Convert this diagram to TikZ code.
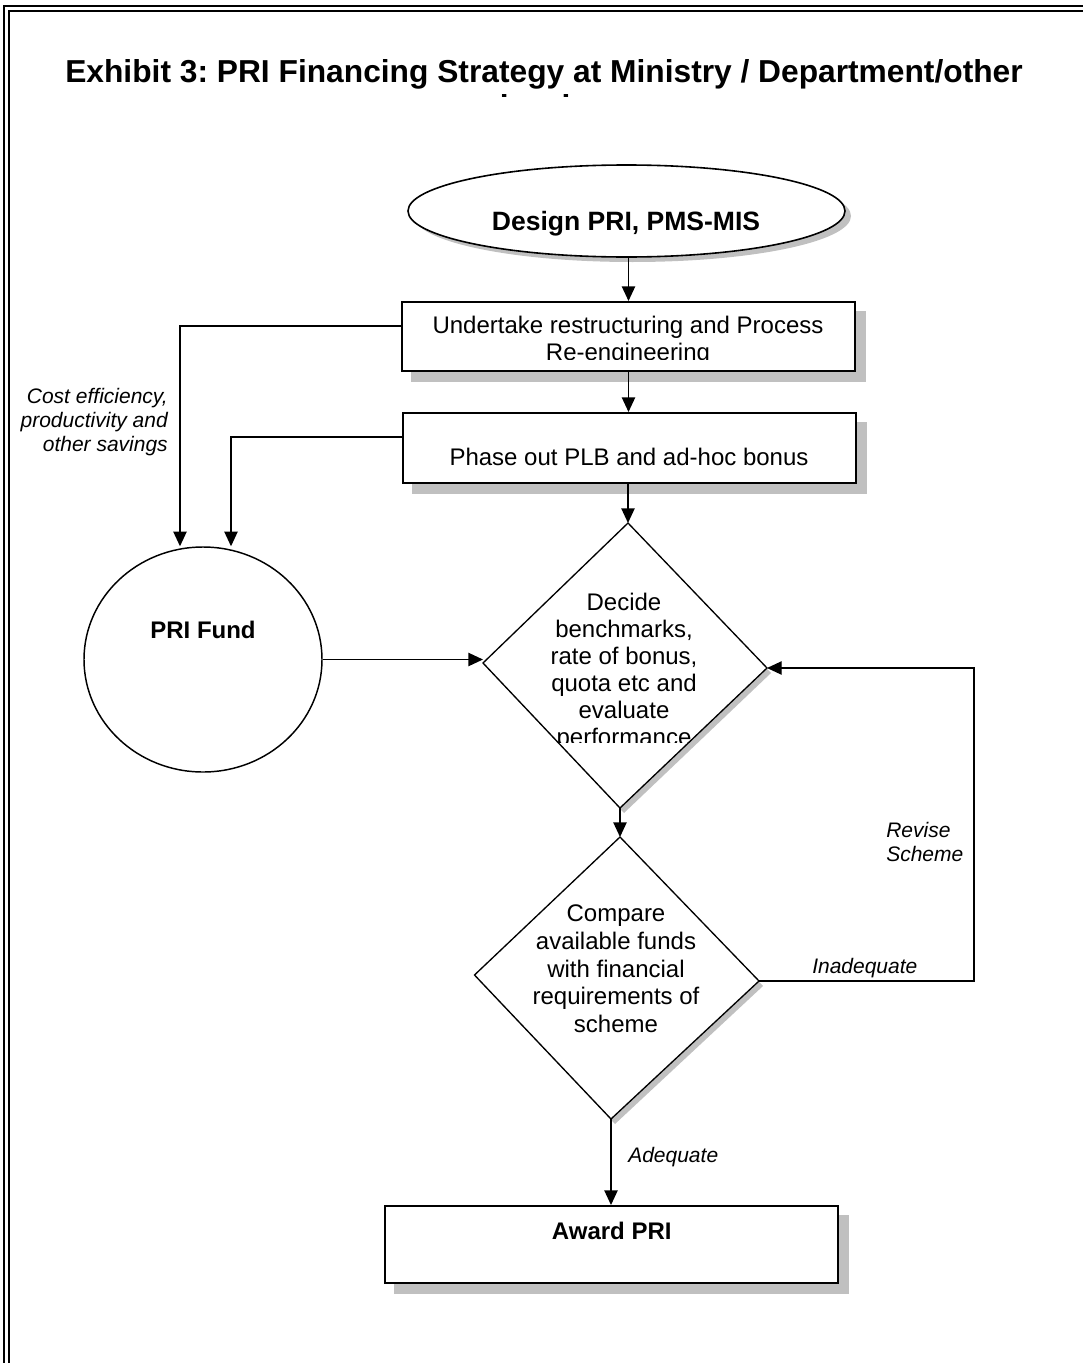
\documentclass[tikz,border=0pt]{standalone}
\usepackage{fontspec}
\setmainfont{Liberation Sans}
\usetikzlibrary{arrows.meta,shapes.geometric,backgrounds}
\definecolor{shgray}{RGB}{192,192,192}
\newcommand{\myts}{\rule{0pt}{0.8em}}
\begin{document}
\frenchspacing
\begin{tikzpicture}[x=0.75pt,y=-0.75pt,
  arr/.style={line width=1pt,-{Triangle[width=10pt,length=11pt]}},
  boxst/.style={draw,line width=1.5pt,fill=white,inner sep=0pt,rectangle},
  shad/.style={fill=shgray,draw=none},
  body/.style={font=\fontsize{18}{20.7}\selectfont,align=center,inner sep=0pt},
  lab/.style={font=\fontsize{15.75}{18.2}\selectfont\itshape,inner sep=0pt},
  boldtxt/.style={font=\fontsize{18}{20.7}\selectfont\bfseries,inner sep=0pt}
]
\useasboundingbox (0,0) rectangle (1083,1363);

% page border (double rule, top and left)
\draw[line width=1.5pt] (3.7,1363) -- (3.7,5.7) -- (1083,5.7);
\draw[line width=1.5pt] (9.3,1363) -- (9.3,10.7) -- (1083,10.7);

% title (second line clipped)
\begin{scope}
\clip (0,0) rectangle (1083,96.5);
\node[font=\fontsize{23.8}{26.6}\selectfont\bfseries,align=center,inner sep=0pt,anchor=north] (title) at (544,56.6)
  {\myts Exhibit 3: PRI Financing Strategy at Ministry / Department/other\\levels};
\end{scope}

% shapes
\node[draw,ellipse,line width=1.2pt,fill=white,minimum width=327.75pt,minimum height=69pt,inner sep=0pt] (design) at (626.5,211) {};
\node[boxst,minimum width=339.75pt,minimum height=51.75pt] (box1) at (628.5,336.5) {};
\node[boxst,minimum width=339.75pt,minimum height=52.5pt] (box2) at (629.5,448) {};
\node[draw,ellipse,line width=1.1pt,fill=white,minimum width=178.5pt,minimum height=168.75pt,inner sep=0pt] (fund) at (203,659.5) {};
\node[boxst,minimum width=340pt,minimum height=57.75pt] (award) at (611.75,1244.5) {};

\coordinate (d1t) at (628,523);
\coordinate (d1r) at (767,668);
\coordinate (d1b) at (620,808);
\coordinate (d1l) at (483,663);
\coordinate (d2t) at (620,837);
\coordinate (d2r) at (759,981);
\coordinate (d2b) at (611,1119);
\coordinate (d2l) at (474.5,975);
\draw[line width=1pt,fill=white] (d1t) -- (d1r) -- (d1b) -- (d1l) -- cycle;
\draw[line width=1pt,fill=white] (d2t) -- (d2r) -- (d2b) -- (d2l) -- cycle;

% shadows
\begin{scope}[on background layer]
\fill[shad] ([shift={(6,5)}]design.center) ellipse [x radius=163.9pt,y radius=34.5pt];
\fill[shad] ([shift={(10,10)}]box1.north west) rectangle ([shift={(10,10)}]box1.south east);
\fill[shad] ([shift={(10,10)}]box2.north west) rectangle ([shift={(10,10)}]box2.south east);
\fill[shad] ([shift={(10,10)}]award.north west) rectangle ([shift={(10,10)}]award.south east);
\fill[shad] ([shift={(4,5)}]d1t) -- ([shift={(4,5)}]d1r) -- ([shift={(4,5)}]d1b) -- ([shift={(4,5)}]d1l) -- cycle;
\fill[shad] ([shift={(4,5)}]d2t) -- ([shift={(4,5)}]d2r) -- ([shift={(4,5)}]d2b) -- ([shift={(4,5)}]d2l) -- cycle;
\end{scope}

% texts
\node[font=\fontsize{19.9}{22}\selectfont\bfseries,inner sep=0pt,anchor=base] (designtxt) at (626,230) {Design PRI, PMS-MIS};
\begin{scope}
\clip (402,302) rectangle (855,359.5);
\node[body,anchor=north] (box1txt) at (628,313.8) {\myts Undertake restructuring and Process\\Re-engineering};
\end{scope}
\node[body,anchor=base] (box2txt) at (629,465) {Phase out PLB and ad-hoc bonus};
\node[boldtxt,anchor=base] (fundtxt) at (203,638) {PRI Fund};
\node[boldtxt,anchor=base] (awardtxt) at (611.75,1239) {Award PRI};
\begin{scope}
\clip (483,523) rectangle (767,742);
\node[body,font=\fontsize{18}{20.25}\selectfont,anchor=north] (d1txt) at (624,590.8)
  {\myts Decide\\benchmarks,\\rate of bonus,\\quota etc and\\evaluate\\performance};
\end{scope}
\node[body,anchor=north] (d2txt) at (616,902.5)
  {\myts Compare\\available funds\\with financial\\requirements of\\scheme};
\begin{scope}
\clip (0,370) rectangle (175,455.5);
\node[lab,align=right,anchor=north east] (costtxt) at (168,386.2)
  {\myts Cost efficiency,\\productivity and\\other savings};
\end{scope}
\node[lab,align=left,anchor=north west] (revisetxt) at (886,820.2) {\myts Revise\\Scheme};
\node[lab,anchor=base west] (inadtxt) at (812,973) {Inadequate};
\node[lab,anchor=base west] (adeqtxt) at (628,1162) {Adequate};

% connectors
\coordinate (k1) at (180,326);
\coordinate (k2) at (231,437);
\coordinate (k3) at (974,668);
\draw[arr] (box1.north |- design.south) -- (box1.north);
\draw[arr] (box1.south) -- (box1.south |- box2.north);
\draw[arr] (d1t |- box2.south) -- (d1t);
\draw[arr] (box1.west |- k1) -- (k1) -- (k1 |- fund.north);
\draw[arr] (box2.west |- k2) -- (k2) -- (k2 |- fund.north);
\draw[arr] (fund.east) -- (fund.east -| d1l);
\draw[arr] (d1b) -- (d2t);
\draw[arr] (d2r) -| (k3) -- (d1r);
\draw[arr] (d2b) -- (d2b |- award.north);
\end{tikzpicture}
\end{document}
